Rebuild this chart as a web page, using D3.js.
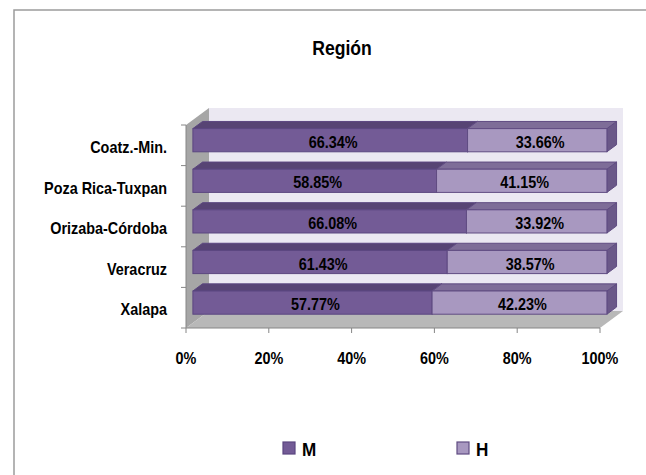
<!DOCTYPE html>
<html lang="es">
<head>
  <meta charset="UTF-8">
  <title>Región</title>
  <style>
    body { margin: 0; background: #fff; }
    text { font-family: "Liberation Sans", Arial, sans-serif; font-weight: bold; fill: #000; }
  </style>
</head>
<body>
  <script src="https://cdn.jsdelivr.net/npm/d3@7"></script>
  <script>
    // datos
    var categories = ["Coatz.-Min.", "Poza Rica-Tuxpan", "Orizaba-Córdoba", "Veracruz", "Xalapa"];
    var valuesM = [66.34, 58.85, 66.08, 61.43, 57.77];
    var valuesH = [33.66, 41.15, 33.92, 38.57, 42.23];
    var seriesNames = ["M", "H"];
    var xTicks = [0, 20, 40, 60, 80, 100];

    var width = 646, height = 475;
    var depth = [23, -17];          // profundidad total del 3D
    var f0 = 0.3, f1 = 0.72;        // las barras ocupan esta parte de la profundidad
    var sx = 0.9;                   // texto un poco estrecho

    var colors = {
      M: { front: "#735b96", top: "#574474", side: "#4f3d6a", stroke: "#5b4680" },
      H: { front: "#a898c0", top: "#7e6d98", side: "#6a5888", stroke: "#604c82" }
    };

    var svg = d3.select("body").append("svg")
      .attr("width", width)
      .attr("height", height);

    // borde del área del gráfico
    svg.append("path")
      .attr("d", "M14," + height + "V10H" + width)
      .attr("fill", "none")
      .attr("stroke", "#9c9c9c")
      .attr("stroke-width", 1.5);

    var x = d3.scaleLinear().domain([0, 100]).range([186, 600]);
    var y = d3.scaleBand().domain(categories).range([125, 328])
      .paddingInner(0.75 / 1.75).paddingOuter(0.75 / 3.5);
    var band = d3.scaleBand().domain(categories).range([125, 328]);

    var x0 = x(0), x1 = x(100), yTop = 125, yBot = 328;
    var dx = depth[0], dy = depth[1];

    function pts(a) { return a.map(function (p) { return p.join(","); }).join(" "); }

    function label(g, px, py, txt, anchor, size, s) {
      g.append("text")
        .attr("transform", "translate(" + px + "," + py + ") scale(" + (s || sx) + ",1)")
        .attr("text-anchor", anchor)
        .style("font-size", size + "px")
        .text(txt);
    }

    // paredes
    svg.append("polygon")
      .attr("points", pts([[x0 + dx, yTop + dy], [x1 + dx, yTop + dy], [x1 + dx, yBot + dy], [x0 + dx, yBot + dy]]))
      .attr("fill", "#ebe8f2");
    svg.append("polygon")
      .attr("points", pts([[x0, yBot], [x0, yTop], [x0 + dx, yTop + dy], [x0 + dx, yBot + dy]]))
      .attr("fill", "#a6a6a6");
    svg.append("polygon")
      .attr("points", pts([[x0, yBot], [x1, yBot], [x1 + dx, yBot + dy], [x0 + dx, yBot + dy]]))
      .attr("fill", "#b8b8b8");

    // ejes
    var axisColor = "#868686";
    svg.append("path")
      .attr("d", "M" + x0 + "," + yTop + "V" + yBot + "H" + x1)
      .attr("fill", "none").attr("stroke", axisColor).attr("stroke-width", 1);
    var yTickPos = categories.map(function (c) { return band(c); }).concat([yBot]);
    svg.selectAll(".ytick").data(yTickPos).enter().append("line")
      .attr("x1", x0 - 5).attr("x2", x0)
      .attr("y1", function (d) { return d; }).attr("y2", function (d) { return d; })
      .attr("stroke", axisColor);
    svg.selectAll(".xtick").data(xTicks).enter().append("line")
      .attr("x1", function (d) { return x(d); }).attr("x2", function (d) { return x(d); })
      .attr("y1", yBot).attr("y2", yBot + 5)
      .attr("stroke", axisColor);

    // barras apiladas
    var ox0 = dx * f0, oy0 = dy * f0, ox1 = dx * f1, oy1 = dy * f1;
    var bh = y.bandwidth();
    var stacked = [];
    categories.forEach(function (c, i) {
      stacked.push({ cat: c, s: "M", a: 0, b: valuesM[i] });
      stacked.push({ cat: c, s: "H", a: valuesM[i], b: valuesM[i] + valuesH[i] });
    });

    var segs = svg.selectAll(".seg").data(stacked).enter().append("g");
    segs.each(function (d) {
      var g = d3.select(this);
      var xa = x(d.a), xb = x(d.b), yt = y(d.cat), c = colors[d.s];
      g.append("polygon")
        .attr("points", pts([[xb + ox0, yt + oy0], [xb + ox1, yt + oy1], [xb + ox1, yt + bh + oy1], [xb + ox0, yt + bh + oy0]]))
        .attr("fill", c.side).attr("stroke", c.stroke).attr("stroke-width", 1).attr("stroke-linejoin", "round");
      g.append("polygon")
        .attr("points", pts([[xa + ox0, yt + oy0], [xb + ox0, yt + oy0], [xb + ox1, yt + oy1], [xa + ox1, yt + oy1]]))
        .attr("fill", c.top).attr("stroke", c.stroke).attr("stroke-width", 1).attr("stroke-linejoin", "round");
      g.append("rect")
        .attr("x", xa + ox0).attr("y", yt + oy0)
        .attr("width", xb - xa).attr("height", bh)
        .attr("fill", c.front).attr("stroke", c.stroke).attr("stroke-width", 1);
    });
    segs.each(function (d) {
      var v = d.b - d.a;
      label(d3.select(this), (x(d.a) + x(d.b)) / 2 + ox0 + 3, y(d.cat) + oy0 + bh / 2 + 7.5,
        v.toFixed(2) + "%", "middle", 16);
    });

    // etiquetas de categorías
    categories.forEach(function (c) {
      label(svg, 167, band(c) + band.bandwidth() / 2 + 7.7, c, "end", 16);
    });

    // etiquetas del eje x
    xTicks.forEach(function (t) {
      label(svg, x(t), yBot + 36, t + "%", "middle", 16);
    });

    // título
    label(svg, 342, 55, "Región", "middle", 20, 0.88);

    // leyenda
    var legendX = [283, 457];
    seriesNames.forEach(function (s, i) {
      svg.append("rect")
        .attr("x", legendX[i]).attr("y", 442)
        .attr("width", 12).attr("height", 12)
        .attr("fill", colors[s].front).attr("stroke", colors[s].stroke).attr("stroke-width", 1.2);
      label(svg, legendX[i] + 19, 456, s, "start", 19);
    });
  </script>
</body>
</html>
